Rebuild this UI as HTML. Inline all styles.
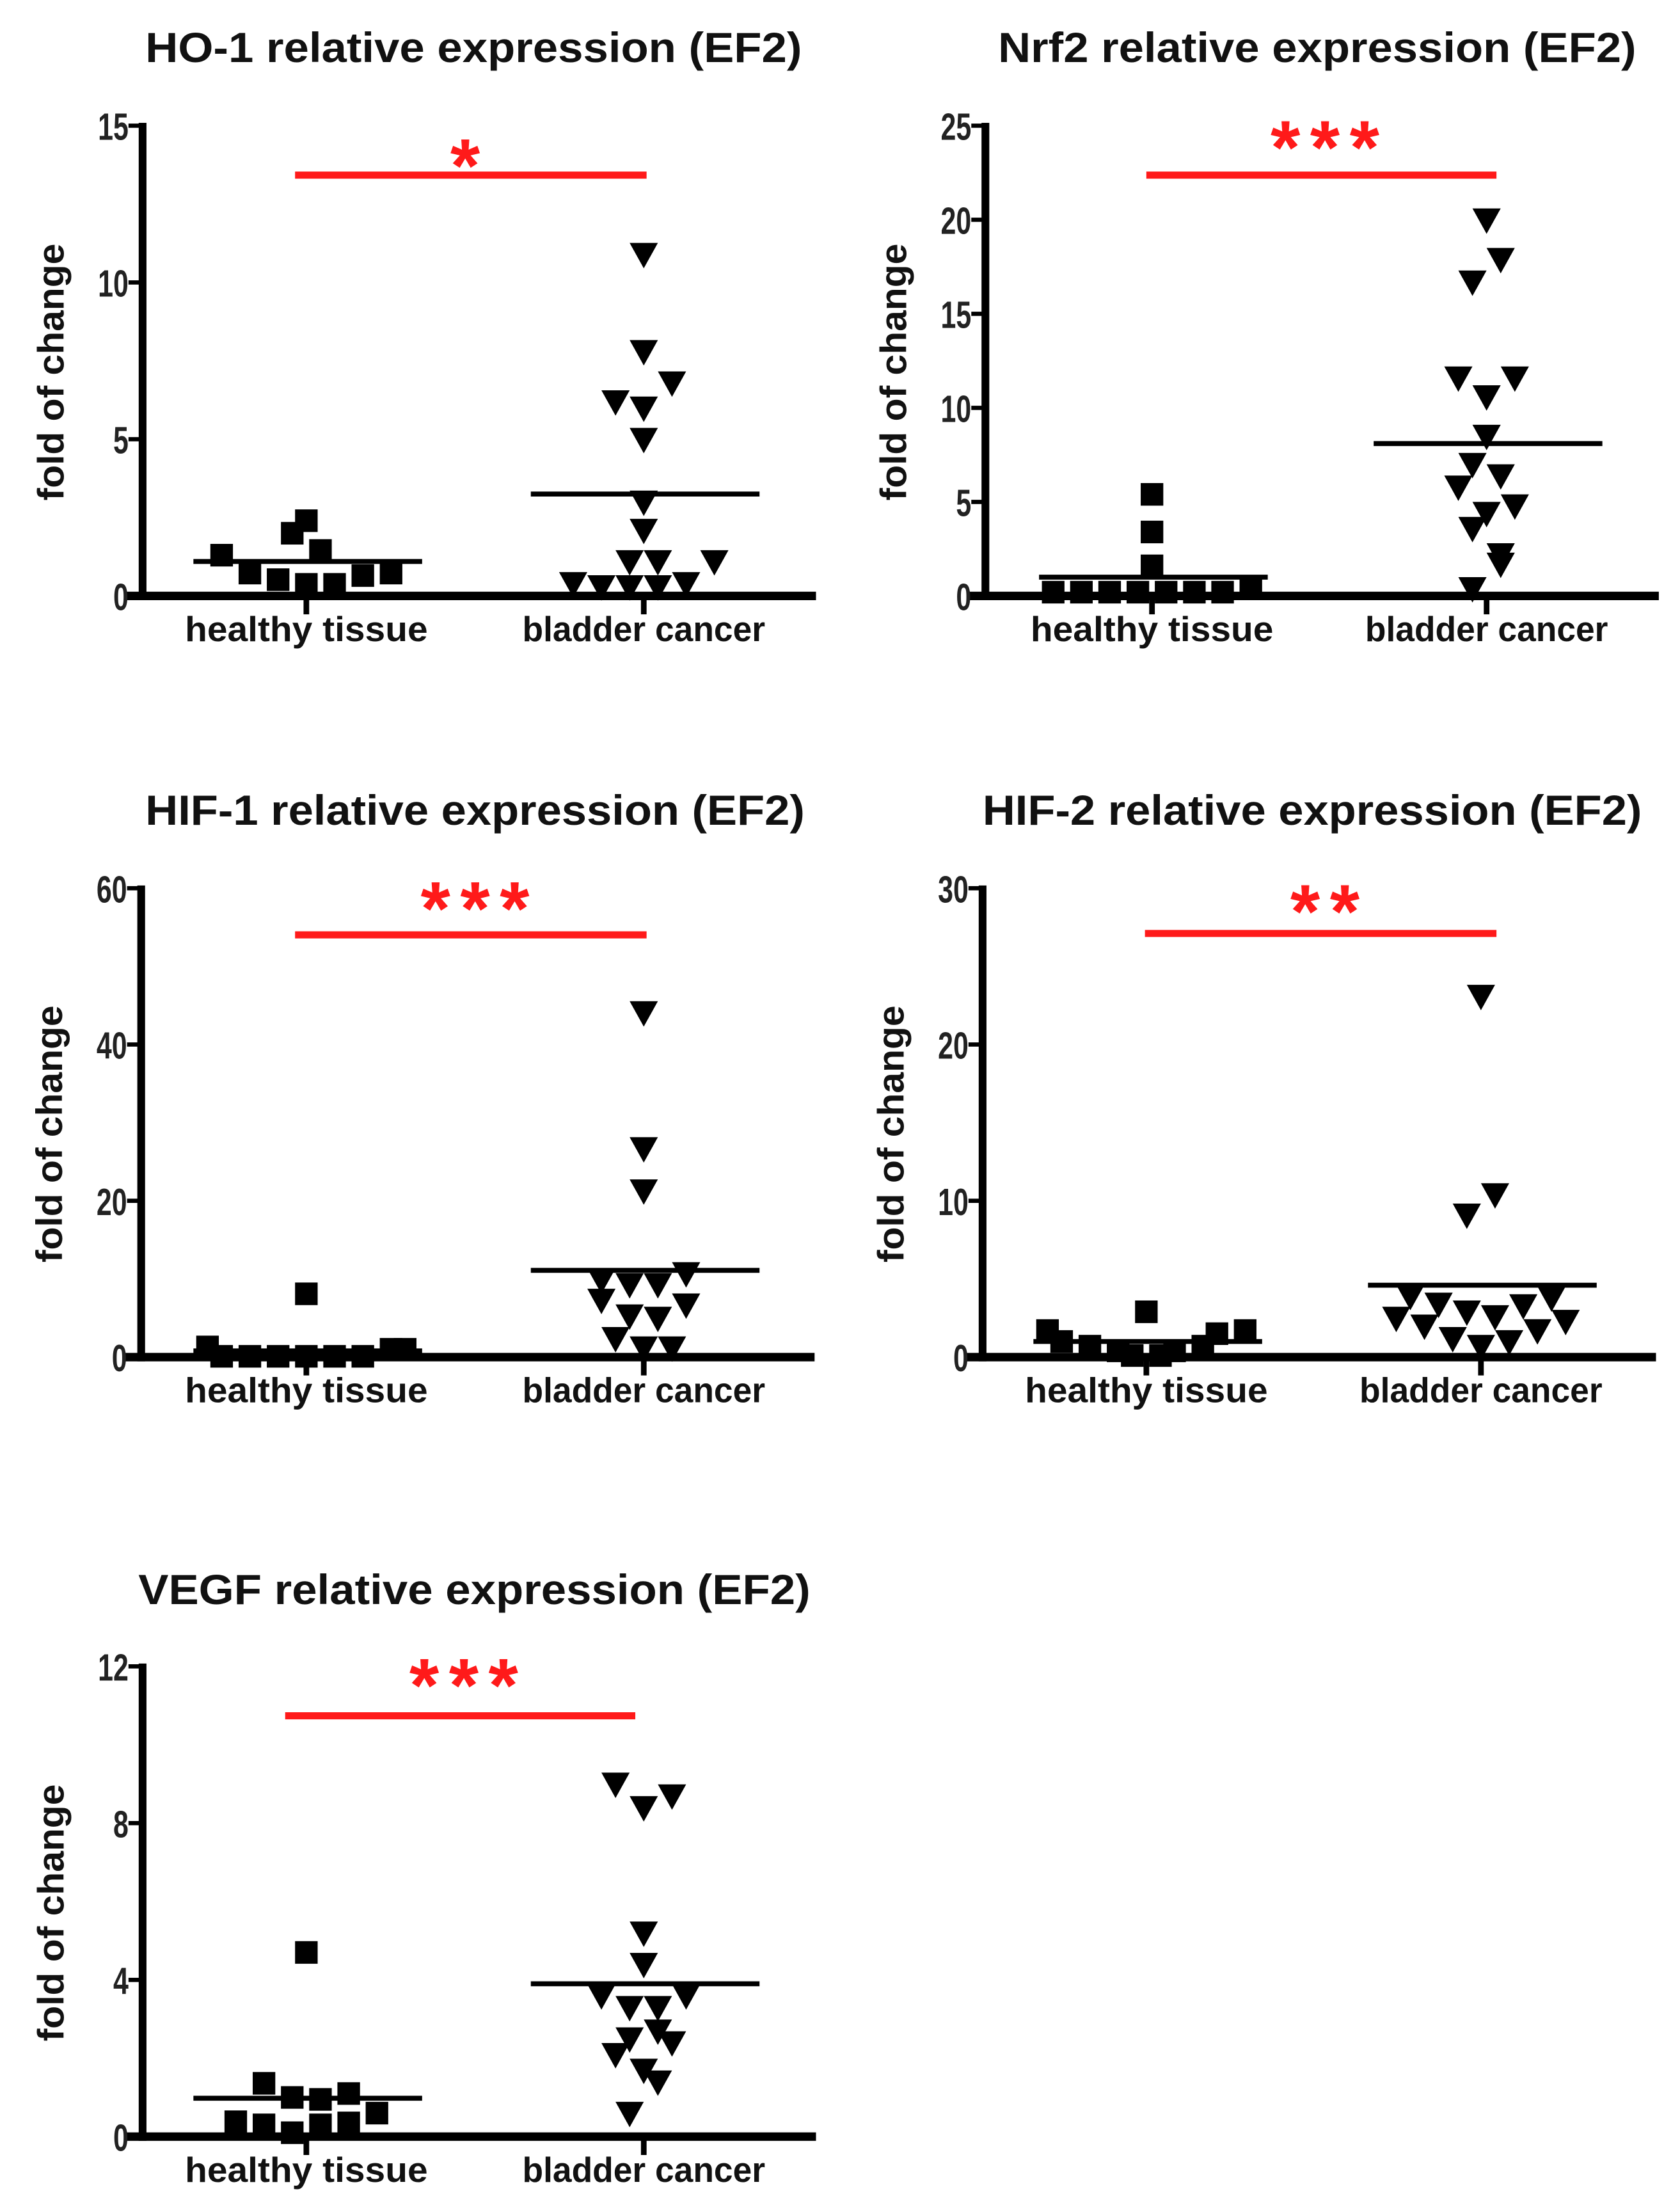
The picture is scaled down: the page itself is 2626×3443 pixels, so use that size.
<!DOCTYPE html>
<html><head><meta charset="utf-8">
<style>
html,body{margin:0;padding:0;background:#fff;}
svg{display:block;}
text{font-family:"Liberation Sans",Arial,sans-serif;}
</style></head>
<body>
<svg id="fig" xmlns="http://www.w3.org/2000/svg" width="2626" height="3443" viewBox="0 0 1190 1560" preserveAspectRatio="none"></svg>
<script>
// ---- data ----
const categories = ["healthy tissue", "bladder cancer"];
const titles = ["HO-1 relative expression (EF2)","Nrf2 relative expression (EF2)","HIF-1 relative expression (EF2)","HIF-2 relative expression (EF2)","VEGF relative expression (EF2)"];
const significance = ["*","***","***","**","***"];
const yMax = [15,25,60,30,12];
const yTicks0 = [0,5,10,15];
const yTicks1 = [0,5,10,15,20,25];
const yTicks2 = [0,20,40,60];
const yTicks3 = [0,10,20,30];
const yTicks4 = [0,4,8,12];

const ho1Healthy = [1.3,0.73,0.52,2.0,2.4,0.37,1.45,0.37,0.65,0.73];
const ho1HealthySlot = [-6,-4,-2,-1,0,0,1,2,4,6];
const ho1Cancer = [10.9,7.8,6.8,6.2,6.0,5.0,3.0,2.1,1.1,1.1,1.1,0.4,0.3,0.3,0.3,0.4];
const ho1CancerSlot = [0,0,2,-2,0,0,0,0,-1,1,5,-5,-3,-1,1,3];
const ho1Means = [1.1,3.25];

const nrf2Healthy = [0.2,0.2,0.2,0.2,0.2,0.2,0.2,0.4,5.4,3.4,1.6];
const nrf2HealthySlot = [-7,-5,-3,-1,1,3,5,7,0,0,0];
const nrf2Cancer = [20.0,17.9,16.7,11.6,11.6,10.6,8.5,7.0,6.4,5.8,4.8,4.4,3.6,2.2,1.7,0.4];
const nrf2CancerSlot = [0,1,-1,-2,2,0,0,-1,1,-2,2,0,-1,1,1,-1];
const nrf2Means = [1.0,8.1];

const hif1Healthy = [1.3,0.1,0.1,0.1,0.1,0.1,0.1,1.0,1.0,8.1];
const hif1HealthySlot = [-7,-6,-4,-2,0,2,4,6,7,0];
const hif1Cancer = [44.1,26.7,21.3,10.7,9.9,9.3,9.3,7.3,6.7,5.3,5.0,2.4,1.2,1.2];
const hif1CancerSlot = [0,0,0,3,-3,-1,1,-3,3,-1,1,-2,0,2];
const hif1Means = [0.8,11.1];

const hif2Healthy = [1.7,1.0,0.7,0.4,0.1,2.9,0.1,0.4,0.7,1.5,1.7];
const hif2HealthySlot = [-7,-6,-4,-2,-1,0,1,2,4,5,7];
const hif2Cancer = [23.1,10.4,9.1,3.9,3.4,2.9,2.6,3.3,3.8,2.5,2.0,1.2,0.7,1.0,1.7,2.3];
const hif2CancerSlot = [0,1,-1,-5,-3,-1,1,3,5,-6,-4,-2,0,2,4,6];
const hif2Means = [1.0,4.6];

const vegfHealthy = [0.38,1.36,0.3,1.0,0.1,4.7,0.95,0.3,1.1,0.35,0.6];
const vegfHealthySlot = [-5,-3,-3,-1,-1,0,1,1,3,3,5];
const vegfCancer = [9.0,8.4,8.7,5.2,4.4,3.6,3.6,3.3,3.3,2.5,2.7,2.4,2.1,1.7,1.4,0.6];
const vegfCancerSlot = [-2,0,2,0,0,-3,3,-1,1,-1,1,2,-2,0,1,-1];
const vegfMeans = [0.98,3.9];

// ---- layout ----
const NS = "http://www.w3.org/2000/svg";
const svg = document.getElementById("fig");
function mk(tag, attrs, parent){
  const e = document.createElementNS(NS, tag);
  for (const k in attrs) e.setAttribute(k, attrs[k]);
  (parent||svg).appendChild(e);
  return e;
}
const panels = [
  {ax:101,zero:422,top:89,hc:217,bc:456,red:[209,458,124],starX:333,starY:136,tl:[103,568,44],ticks:yTicks0,h:ho1Healthy,hs:ho1HealthySlot,c:ho1Cancer,cs:ho1CancerSlot,m:ho1Means,key:"ho1"},
  {ax:698,zero:422,top:89,hc:816,bc:1053,red:[812,1060,124],starX:942,starY:123,tl:[707,1159,44],ticks:yTicks1,h:nrf2Healthy,hs:nrf2HealthySlot,c:nrf2Cancer,cs:nrf2CancerSlot,m:nrf2Means,key:"nrf2"},
  {ax:100,zero:961,top:629,hc:217,bc:456,red:[209,458,662],starX:340,starY:662,tl:[103,570,584],ticks:yTicks2,h:hif1Healthy,hs:hif1HealthySlot,c:hif1Cancer,cs:hif1CancerSlot,m:hif1Means,key:"hif1"},
  {ax:696,zero:961,top:629,hc:812,bc:1049,red:[811,1060,661],starX:942,starY:664,tl:[696,1163,584],ticks:yTicks3,h:hif2Healthy,hs:hif2HealthySlot,c:hif2Cancer,cs:hif2CancerSlot,m:hif2Means,key:"hif2"},
  {ax:101,zero:1513,top:1180,hc:217,bc:456,red:[202,450,1215],starX:332,starY:1212,tl:[98,574,1136],ticks:yTicks4,h:vegfHealthy,hs:vegfHealthySlot,c:vegfCancer,cs:vegfCancerSlot,m:vegfMeans,key:"vegf"}
];
const SLOT = 10;

panels.forEach((p, i) => {
  const g = mk("g", {});
  
  
  const y = v => p.zero - (v / yMax[i]) * (p.zero - p.top);

  const t = mk("text", {x:p.tl[0], y:p.tl[2], "font-size":30, "font-weight":"bold", textLength:p.tl[1]-p.tl[0], lengthAdjust:"spacingAndGlyphs", fill:"#111"}, g);
  t.textContent = titles[i];
  
  

  const yl = mk("text", {x:0, y:0, "font-size":26, "font-weight":"bold", "text-anchor":"middle", textLength:182, lengthAdjust:"spacingAndGlyphs", transform:`translate(${p.ax-56},${(p.top+p.zero)/2+8}) rotate(-90)`, fill:"#111"}, g);
  yl.textContent = "fold of change";
  
  

  const yaxis = mk("line", {x1:p.ax, y1:p.top-2, x2:p.ax, y2:p.zero+3, stroke:"#000", "stroke-width":5.5}, g);
  
  
  const xaxis = mk("line", {x1:p.ax-12, y1:p.zero, x2:p.ax+477, y2:p.zero, stroke:"#000", "stroke-width":6}, g);
  
  

  p.ticks.forEach(tv => {
    const ty = y(tv);
    const tk = mk("line", {x1:p.ax-10, y1:ty, x2:p.ax, y2:ty, stroke:"#000", "stroke-width":3}, g);
    
    
    const tl = mk("text", {x:0, y:0, "font-size":27, "font-weight":"bold", "text-anchor":"end", fill:"#222", transform:`translate(${p.ax-10},${ty+10}) scale(0.72,1)`}, g);
    tl.textContent = tv;
    
    
  });

  [p.hc, p.bc].forEach((cx, k) => {
    const tk = mk("line", {x1:cx, y1:p.zero, x2:cx, y2:p.zero+13, stroke:"#000", "stroke-width":4}, g);
    
    
    const lb = mk("text", {x:cx, y:p.zero+32, "font-size":25, "font-weight":"bold", "text-anchor":"middle", textLength:172, lengthAdjust:"spacingAndGlyphs", fill:"#111"}, g);
    lb.textContent = categories[k];
    
    
  });

  p.h.forEach((v, j) => {
    const cx = p.hc + p.hs[j] * SLOT, cy = y(v);
    const r = mk("rect", {x:cx-8, y:cy-8, width:16, height:16, fill:"#000"}, g);
    
    
  });
  p.c.forEach((v, j) => {
    const cx = p.bc + p.cs[j] * SLOT, cy = y(v);
    const tr = mk("polygon", {points:`${cx-10},${cy-8} ${cx+10},${cy-8} ${cx},${cy+10}`, fill:"#000"}, g);
    
    
  });

  const m1 = mk("line", {x1:p.hc-80, y1:y(p.m[0]), x2:p.hc+82, y2:y(p.m[0]), stroke:"#000", "stroke-width":3.5}, g);
  
  
  const m2 = mk("line", {x1:p.bc-80, y1:y(p.m[1]), x2:p.bc+82, y2:y(p.m[1]), stroke:"#000", "stroke-width":3.5}, g);
  
  

  const rl = mk("line", {x1:p.red[0], y1:p.red[2], x2:p.red[1], y2:p.red[2], stroke:"#ff1a1a", "stroke-width":5}, g);
  
  
  const st = mk("text", {x:p.starX, y:p.starY, "font-size":54, "font-weight":"bold", "text-anchor":"middle", "letter-spacing":7, fill:"#ff1a1a"}, g);
  st.textContent = significance[i];
  
  
});
</script>
</body></html>
